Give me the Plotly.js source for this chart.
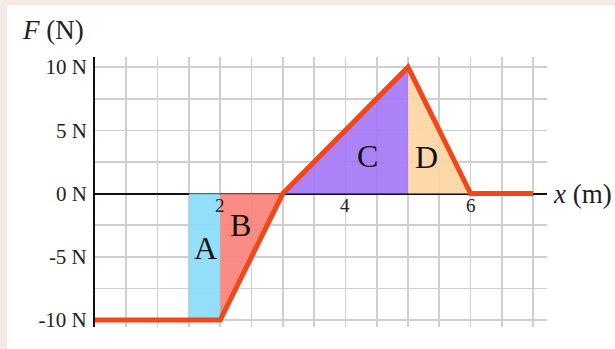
<!DOCTYPE html>
<html>
<head>
<meta charset="utf-8">
<script src="https://cdn.plot.ly/plotly-3.0.1.min.js"></script>
<style>
  body { margin: 0; background: #f4ebe9; }
  #chart { position: absolute; left: 7px; top: 5px; width: 608px; height: 344px; background: #fff; }
</style>
</head>
<body>
<div id="chart"></div>
<script>
// force vs position
var posM = [0, 2, 3, 5, 6, 7];
var forceN = [-10, -10, 0, 10, 0, 0];

// shaded regions (polygons)
var regAx = [1.5, 1.5, 2, 2];
var regAy = [0, -10, -10, 0];
var regBx = [2, 2, 3];
var regBy = [0, -10, 0];
var regCx = [3, 5, 5];
var regCy = [0, 10, 0];
var regDx = [5, 5, 6];
var regDy = [0, 10, 0];
var regionNames = ["A", "B", "C", "D"];

var yTicks = [-10, -7.5, -5, -2.5, 0, 2.5, 5, 7.5, 10];
var yTickText = ["-10 N", "", "-5 N", "", "0 N", "", "5 N", "", "10 N"];
var xGrid = [0, 0.5, 1, 1.5, 2, 2.5, 3, 3.5, 4, 4.5, 5, 5.5, 6, 6.5, 7];
var xLabels = [2, 4, 6];

var serif = "Liberation Serif";

function region(xs, ys, col) {
  return { x: xs, y: ys, type: "scatter", mode: "none", fill: "toself",
    fillcolor: col, hoverinfo: "skip", showlegend: false };
}

var data = [
  region(regAx, regAy, "rgba(135,220,250,0.9)"),
  region(regBx, regBy, "rgba(250,128,118,0.9)"),
  region(regCx, regCy, "rgba(162,118,245,0.9)"),
  region(regDx, regDy, "rgba(253,212,162,0.9)"),
  { x: posM, y: forceN, type: "scatter", mode: "lines",
    line: { color: "#f2471b", width: 5 }, showlegend: false }
];

var labelPos = [[1.76, -4.3], [2.33, -2.5], [4.35, 3.0], [5.3, 2.9]];
var annotations = regionNames.map(function (n, i) {
  return { x: labelPos[i][0], y: labelPos[i][1], text: n, showarrow: false,
    font: { family: serif, size: 32, color: "#111" } };
});
xLabels.forEach(function (v) {
  annotations.push({ x: v, y: 0, text: String(v), showarrow: false, yanchor: "top",
    yshift: 1, font: { family: serif, size: 19, color: "#222" } });
});
annotations.push({ xref: "paper", yref: "paper", x: -0.165, y: 1.1, xanchor: "left",
  yanchor: "middle", text: "<i>F</i> (N)", showarrow: false,
  font: { family: serif, size: 27, color: "#222" } });
annotations.push({ xref: "paper", yref: "y", x: 1.008, y: 0, xanchor: "left",
  yanchor: "middle", text: "<i>x</i> (m)", showarrow: false,
  font: { family: serif, size: 27, color: "#222" } });

var layout = {
  width: 608, height: 344,
  margin: { l: 88, r: 68, t: 52, b: 22 },
  paper_bgcolor: "#fff", plot_bgcolor: "#fff",
  showlegend: false,
  font: { family: serif },
  xaxis: { range: [0, 7.22], tickvals: xGrid, showticklabels: false,
    showgrid: true, gridcolor: "#cfcfcf", gridwidth: 1.7, zeroline: false,
    showline: false, fixedrange: true },
  yaxis: { range: [-10.55, 10.8], tickvals: yTicks, ticktext: yTickText,
    showgrid: true, gridcolor: "#cfcfcf", gridwidth: 1.7,
    zeroline: true, zerolinecolor: "#111", zerolinewidth: 2,
    showline: true, linecolor: "#111", linewidth: 2,
    tickfont: { family: serif, size: 21, color: "#222" }, ticklabelstandoff: 2,
    fixedrange: true },
  annotations: annotations
};

Plotly.newPlot("chart", data, layout, { displayModeBar: false, staticPlot: true });
</script>
</body>
</html>
